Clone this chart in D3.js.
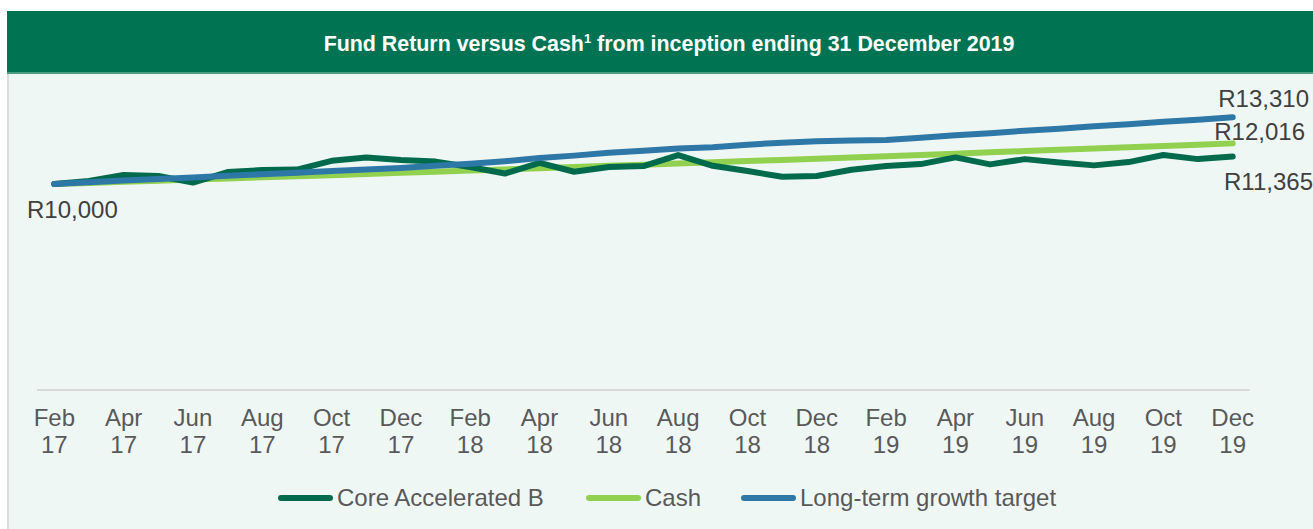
<!DOCTYPE html>
<html>
<head>
<meta charset="utf-8">
<script src="https://cdn.jsdelivr.net/npm/d3@7"></script>
<style>
  html, body { margin: 0; padding: 0; background: #ffffff; }
  svg { display: block; font-family: "Liberation Sans", Arial, sans-serif; }
</style>
</head>
<body>
<svg id="chart" width="1313" height="529"></svg>
<script>
// ---- data ----
const months = ["Feb 17","Mar 17","Apr 17","May 17","Jun 17","Jul 17","Aug 17","Sep 17","Oct 17","Nov 17","Dec 17",
  "Jan 18","Feb 18","Mar 18","Apr 18","May 18","Jun 18","Jul 18","Aug 18","Sep 18","Oct 18","Nov 18","Dec 18",
  "Jan 19","Feb 19","Mar 19","Apr 19","May 19","Jun 19","Jul 19","Aug 19","Sep 19","Oct 19","Nov 19","Dec 19"];
const tickLabels = ["Feb 17","Apr 17","Jun 17","Aug 17","Oct 17","Dec 17","Feb 18","Apr 18","Jun 18","Aug 18",
  "Oct 18","Dec 18","Feb 19","Apr 19","Jun 19","Aug 19","Oct 19","Dec 19"];
const fundValues = [10000,10148,10445,10395,10074,10593,10692,10716,11151,11319,11186,
  11112,10840,10519,11052,10608,10840,10889,11433,10904,10642,10361,10395,
  10706,10889,10988,11319,10973,11235,11072,10924,11087,11440,11235,11365];
const cashValues = [10000,10055,10110,10165,10220,10275,10330,10385,10440,10495,10555,
  10610,10668,10725,10783,10840,10900,10958,11017,11077,11137,11197,11258,
  11320,11382,11444,11506,11570,11633,11697,11760,11823,11888,11952,12016];
const targetValues = [10000,10084,10168,10247,10326,10405,10484,10563,10642,10721,10800,
  10900,11010,11130,11285,11408,11556,11655,11764,11828,11952,12050,12125,
  12159,12189,12298,12421,12520,12643,12742,12866,12964,13088,13187,13310];
const seriesNames = ["Core Accelerated B","Cash","Long-term growth target"];
const seriesColors = ["#006B4C","#92D050","#2E78A8"];
const title = "Fund Return versus Cash";
const titleRest = " from inception ending 31 December 2019";

// ---- layout ----
const svg = d3.select("#chart");
const FS = 24;
// panel
svg.append("rect").attr("x", 7).attr("y", 11).attr("width", 1306).attr("height", 518).attr("fill", "#EFF7F4");
svg.append("rect").attr("x", 7).attr("y", 72).attr("width", 2).attr("height", 457).attr("fill", "#D9DEDC");
svg.append("rect").attr("x", 7).attr("y", 11).attr("width", 1306).attr("height", 61).attr("fill", "#007452");
svg.append("rect").attr("x", 7).attr("y", 72).attr("width", 1306).attr("height", 2).attr("fill", "#4C9C80");

const t = svg.append("text").attr("x", 669).attr("y", 51).attr("text-anchor", "middle")
  .attr("fill", "#ffffff").attr("font-weight", "bold").attr("font-size", 21.4);
t.append("tspan").text(title);
t.append("tspan").attr("font-size", 13).attr("dy", -8).text("1");
t.append("tspan").attr("dy", 8).text(titleRest);

// scales
const x = d3.scaleBand().domain(months).range([37, 1250]);
const cx = d => x(d) + x.bandwidth() / 2;
const y = d3.scaleLinear().domain([10000, 13310]).range([184, 117.3]);

// axis
const axisG = svg.append("g").attr("transform", "translate(0,390)")
  .call(d3.axisBottom(x).tickValues(tickLabels).tickSize(0).tickPadding(0));
axisG.select(".domain").attr("stroke", "#D9D9D9").attr("stroke-width", 2).attr("d", "M37,0H1250");
axisG.selectAll(".tick text").each(function(d) {
  const parts = d.split(" ");
  const el = d3.select(this).text(null).attr("y", 0).attr("dy", null)
    .attr("font-family", "Liberation Sans, Arial, sans-serif").attr("font-size", FS).attr("fill", "#595959");
  el.append("tspan").attr("x", 0).attr("y", 36).text(parts[0]);
  el.append("tspan").attr("x", 0).attr("y", 63).text(parts[1]);
});

// lines
const allSeries = [fundValues, cashValues, targetValues];
const line = d3.line().x((d, i) => cx(months[i])).y(d => y(d));
[1, 0, 2].forEach(k => {
  svg.append("path").datum(allSeries[k]).attr("d", line).attr("fill", "none")
    .attr("stroke", seriesColors[k]).attr("stroke-width", 6)
    .attr("stroke-linejoin", "round").attr("stroke-linecap", "round");
});

// value labels
const lab = (txt, xx, yy, anchor) => svg.append("text").attr("x", xx).attr("y", yy)
  .attr("text-anchor", anchor).attr("font-size", FS).attr("fill", "#404040").text(txt);
const fmt = v => "R" + d3.format(",")(v);
lab(fmt(fundValues[0]), 27, y(fundValues[0]) + 34, "start");
lab(fmt(targetValues[34]), 1309, y(targetValues[34]) - 10, "end");
lab(fmt(cashValues[34]), 1305, y(cashValues[34]) - 3, "end");
lab(fmt(fundValues[34]), 1313, y(fundValues[34]) + 34, "end");

// legend
const legX = [278, 586, 741];
seriesNames.forEach((n, i) => {
  svg.append("line").attr("x1", legX[i] + 3).attr("x2", legX[i] + 52).attr("y1", 498).attr("y2", 498)
    .attr("stroke", seriesColors[i]).attr("stroke-width", 6).attr("stroke-linecap", "round");
  svg.append("text").attr("x", legX[i] + 59).attr("y", 506).attr("font-size", FS)
    .attr("fill", "#595959").text(n);
});
</script>
</body>
</html>
